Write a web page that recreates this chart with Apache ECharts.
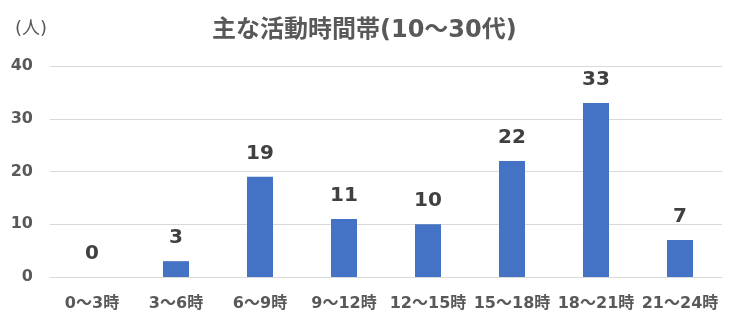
<!DOCTYPE html>
<html><head><meta charset="utf-8">
<script src="https://cdn.jsdelivr.net/npm/echarts@6/dist/echarts.min.js"></script>
<style>html,body{margin:0;padding:0;background:#fff}#c{width:740px;height:334px}</style>
</head><body><div id="c"></div>
<script>
const categories = ['0～3時','3～6時','6～9時','9～12時','12～15時','15～18時','18～21時','21～24時'];
const values = [0, 3, 19, 11, 10, 22, 33, 7];
const titleText = '主な活動時間帯(10～30代)';
const unitText = '(人)';
const chart = echarts.init(document.getElementById('c'));
const ff = '"DejaVu Sans", "Noto Sans CJK JP", sans-serif';
chart.setOption({
  animation: false,
  title: {text: titleText, left: 207, top: 14,
    textStyle: {fontFamily: ff, fontSize: 24, fontWeight: 'bold', color: '#595959'}},
  graphic: [{type: 'text', left: 15, top: 20, style: {text: unitText, font: '18px ' + ff, fill: '#595959'}}],
  grid: {left: 50, right: 18, top: 66, bottom: 57},
  xAxis: {type: 'category', data: categories,
    axisLine: {lineStyle: {color: '#d9d9d9'}}, axisTick: {show: false},
    axisLabel: {fontFamily: ff, fontSize: 16, fontWeight: 'bold', color: '#595959', margin: 19, interval: 0}},
  yAxis: {type: 'value', min: 0, max: 40, interval: 10,
    splitLine: {lineStyle: {color: '#d9d9d9'}},
    axisLabel: {fontFamily: ff, fontSize: 16, fontWeight: 'bold', color: '#595959', margin: 17}},
  series: [{type: 'bar', data: values, barWidth: 26,
    itemStyle: {color: '#4472C4'},
    label: {show: true, position: 'top', distance: 13, fontFamily: ff, fontSize: 20, fontWeight: 'bold', color: '#404040'}}]
});
</script></body></html>
